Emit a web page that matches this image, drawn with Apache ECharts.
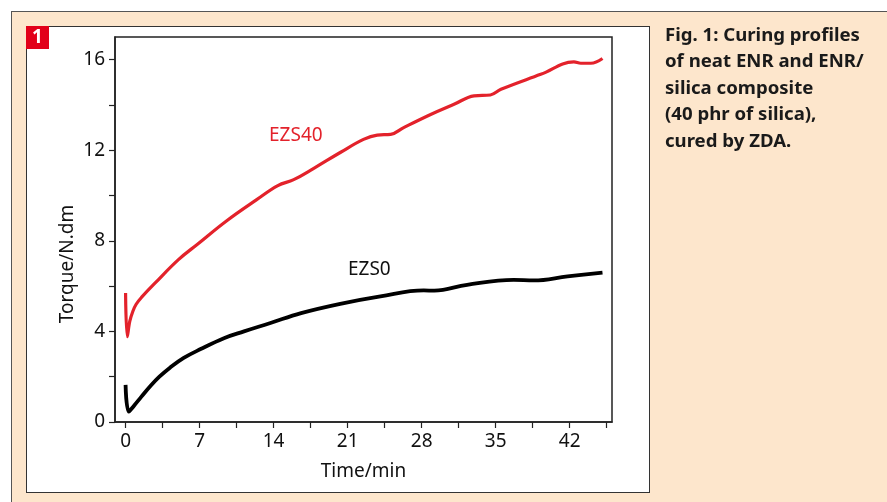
<!DOCTYPE html>
<html><head><meta charset="utf-8">
<script src="https://cdn.jsdelivr.net/npm/echarts@6/dist/echarts.min.js"></script>
<style>
html,body{margin:0;padding:0;background:#fff;overflow:hidden;}
#frame{position:absolute;left:11px;top:11px;width:876px;height:491px;background:#fde6cc;border-left:1px solid #555;border-top:1px solid #555;box-sizing:border-box;}
#panel{position:absolute;left:26px;top:26px;width:624px;height:467px;background:#fff;border:1px solid #333;box-sizing:border-box;}
#chart{position:absolute;left:0;top:0;width:887px;height:502px;}
</style></head><body>
<div id="frame"></div><div id="panel"></div><div id="chart"></div>
<script>
// ---- data ----
var ezs40Time = [0, 0.16, 0.4, 0.7, 1.0, 1.5, 2.8, 5.0, 6.8, 9.6, 12.4, 14.4, 15.9, 17.8, 20.3, 22.5, 23.8, 25.07, 26.3, 28.85, 31.06, 32.95, 34.5, 35.5, 39.26, 42.4, 43.05, 44.0, 45.1];
var ezs40Torque = [5.7, 3.77, 4.45, 4.9, 5.2, 5.5, 6.14, 7.17, 7.85, 8.9, 9.82, 10.44, 10.7, 11.2, 11.9, 12.48, 12.67, 12.7, 13.0, 13.58, 14.03, 14.4, 14.44, 14.69, 15.35, 15.9, 15.84, 15.84, 16.05];
var ezs0Time = [0, 0.31, 0.8, 1.5, 2.37, 3.2, 4.2, 5.5, 7.1, 9.3, 11.2, 13.7, 16.6, 20.3, 24.1, 28.2, 29.2, 32.3, 36.7, 38.6, 41.8, 45.1];
var ezs0Torque = [1.64, 0.46, 0.72, 1.12, 1.6, 2.0, 2.4, 2.83, 3.22, 3.7, 4.0, 4.37, 4.81, 5.22, 5.55, 5.81, 5.8, 6.06, 6.28, 6.25, 6.43, 6.6];
var xTickValues = [0, 3.5, 7, 10.5, 14, 17.5, 21, 24.5, 28, 31.5, 35, 38.5, 42, 45.5];
var xLabelValues = [0, 7, 14, 21, 28, 35, 42];
var yTickValues = [0, 2, 4, 6, 8, 10, 12, 14, 16];
var yLabelValues = [0, 4, 8, 12, 16];
var seriesNames = ['EZS40', 'EZS0'];
var labelPos = { EZS40: [16.1, 12.65], EZS0: [23.05, 6.73] };
var captionLines = ['Fig. 1: Curing profiles', 'of neat ENR and ENR/', 'silica composite', '(40 phr of silica),', 'cured by ZDA.'];
var xName = 'Time/min', yName = 'Torque/N.dm', figNo = '1';

function zip(a, b) { return a.map(function (v, i) { return [v, b[i]]; }); }

var FONT = '"Noto Sans", "Open Sans", sans-serif';
var RED = '#e3222b';
var chart = echarts.init(document.getElementById('chart'), null, { renderer: 'canvas' });

function axisCommon(tickVals, labelVals) {
  return {
    type: 'value',
    axisLine: { show: true, onZero: false, lineStyle: { color: '#222', width: 1.5 } },
    axisTick: { show: true, inside: false, length: 6, customValues: tickVals, lineStyle: { color: '#222', width: 1.2 } },
    axisLabel: { show: true, customValues: labelVals, fontSize: 19, fontFamily: FONT, color: '#111', margin: 10 },
    splitLine: { show: false }
  };
}

var xAxis = axisCommon(xTickValues, xLabelValues);
xAxis.min = -1; xAxis.max = 46;
xAxis.name = xName; xAxis.nameLocation = 'middle'; xAxis.nameGap = 40;
xAxis.nameTextStyle = { fontSize: 19, fontFamily: FONT, color: '#111' };

var yAxis = axisCommon(yTickValues, yLabelValues);
yAxis.min = 0; yAxis.max = 17;

function markFor(name, color) {
  return {
    symbol: 'circle', symbolSize: 1, itemStyle: { color: 'rgba(0,0,0,0)' },
    data: [{ coord: labelPos[name], name: name }],
    label: { show: true, position: 'inside', formatter: name, color: color, fontSize: 19, fontFamily: FONT }
  };
}

chart.setOption({
  animation: false,
  backgroundColor: 'transparent',
  grid: { left: 115, top: 37, right: 275, bottom: 80, show: true, borderColor: '#222', borderWidth: 1.5, backgroundColor: 'transparent' },
  xAxis: xAxis,
  yAxis: yAxis,
  series: [
    { name: seriesNames[0], type: 'line', data: zip(ezs40Time, ezs40Torque), showSymbol: false, smooth: 0.4,
      lineStyle: { color: RED, width: 3.2 }, itemStyle: { color: RED }, markPoint: markFor('EZS40', RED) },
    { name: seriesNames[1], type: 'line', data: zip(ezs0Time, ezs0Torque), showSymbol: false, smooth: 0.4,
      lineStyle: { color: '#000', width: 3.8 }, itemStyle: { color: '#000' }, markPoint: markFor('EZS0', '#111') }
  ],
  graphic: [
    { type: 'rect', shape: { x: 26, y: 26, width: 23, height: 23 }, style: { fill: '#e2001a' } },
    { type: 'text', x: 37.5, y: 38, style: { text: figNo, font: 'bold 19px ' + FONT, fill: '#fff', align: 'center', verticalAlign: 'middle' } },
    { type: 'text', x: 665, y: 22, style: { text: captionLines.join('\n'), font: 'bold 18.6px ' + FONT, fill: '#1a1a1a', lineHeight: 26.5 } },
    { type: 'text', x: 68, y: 264, rotation: Math.PI / 2, style: { text: yName, font: '19px ' + FONT, fill: '#111', align: 'center', verticalAlign: 'middle' } }
  ]
});
</script></body></html>
